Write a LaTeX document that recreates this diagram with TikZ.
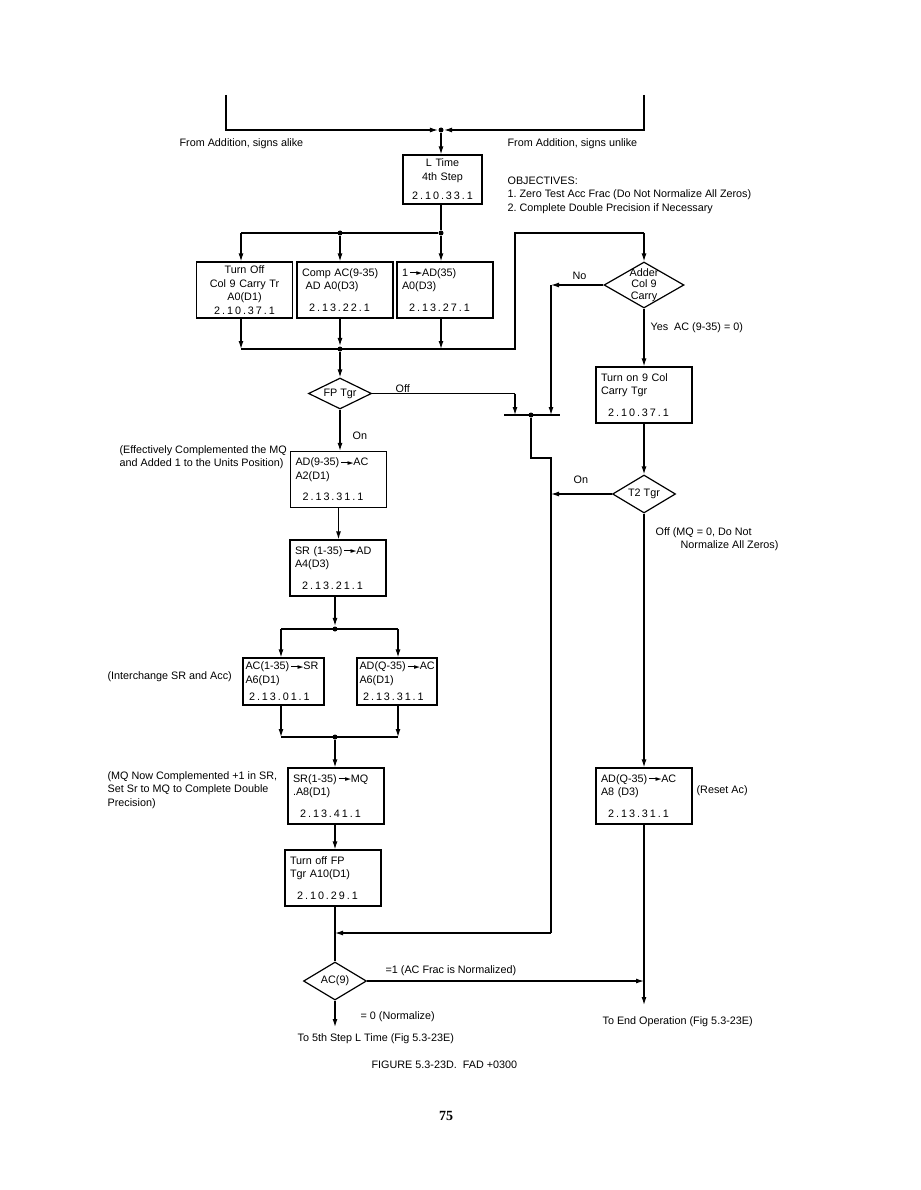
\documentclass[tikz,border=0pt]{standalone}
\usepackage{fontspec}
\setmainfont{Liberation Sans}
\newfontfamily\numfont[LetterSpace=18]{Liberation Sans}
\newfontfamily\symfont{DejaVu Sans}
\newfontfamily\pagefont{Liberation Serif}
\usetikzlibrary{shapes.geometric,arrows.meta}

\newcommand{\ra}{\,\rule[3.2pt]{8pt}{0.8pt}\kern-1.5pt\raisebox{0.6pt}{\symfont\fontsize{7.5}{7.5}\selectfont\char"25BA}}
\newcommand{\secno}[1]{{\numfont #1}}

\tikzset{
  blk/.style={draw, rectangle, text width=#1, inner xsep=5pt, inner ysep=3pt,
    minimum height=56pt, align=left, font=\fontsize{10.8}{13.5}\selectfont},
  blk/.default=86pt,
  decide/.style={draw, diamond, aspect=2, inner sep=-3pt, align=center,
    font=\fontsize{10.8}{11.5}\selectfont},
  jdot/.style={circle, fill, inner sep=0pt, minimum size=5pt},
  note/.style={anchor=west, inner sep=0pt, align=left,
    font=\fontsize{10.8}{13.5}\selectfont},
  >={Latex[length=8pt,width=5pt]}
}

\begin{document}
\begin{tikzpicture}[x=1pt, y=-1pt, line width=1.2pt]

    % Page size of the scanned sheet
    \useasboundingbox (0,0) rectangle (920,1190);

    % Entry lines from the addition steps
    \coordinate (alike) at (226,95);
    \coordinate (unlike) at (644,95);
    \node[jdot] (j0) at (441,130) {};
    \draw[->] (alike) |- (j0);
    \draw[->] (unlike) |- (j0);
    \node[note] (nalike) at (179,144) {From Addition, signs alike};
    \node[note] (nunlike) at (507,144) {From Addition, signs unlike};

    % L time, 4th step
    \node[blk=69pt, align=center, minimum height=49pt] (ltime) at (442.5,179.5)
        {L Time\\4th Step\\[6pt]\secno{2.10.33.1}};
    \draw[->] (j0) -- (j0 |- ltime.north);

    % Objectives
    \node[note, anchor=north west] (nobj) at (507,176)
        {OBJECTIVES:\\1.\ Zero Test Acc Frac (Do Not Normalize All Zeros)\\2.\ Complete Double Precision if Necessary};

    % Split into the three first steps
    \node[jdot] (j1) at (441,233) {};
    \node[jdot] (j2) at (340,233) {};
    \coordinate (c1) at (241,233);
    \draw (ltime.south -| j1) -- (j1);
    \draw (c1) -- (j1);

    \node[blk, align=center] (turnoff) at (244.5,290)
        {Turn Off\\Col 9 Carry Tr\\A0(D1)\\\secno{2.10.37.1}};
    \node[blk] (comp) at (345,290)
        {\mbox{Comp AC(9-35)}\\\ AD A0(D3)\\[8pt]\secno{\ \ 2.13.22.1}};
    \node[blk] (oneto) at (445,290)
        {1\ra AD(35)\\A0(D3)\\[8pt]\secno{\ \ 2.13.27.1}};
    \draw[->] (c1) -- (c1 |- turnoff.north);
    \draw[->] (j2) -- (j2 |- comp.north);
    \draw[->] (j1) -- (j1 |- oneto.north);

    % Merge below the three steps
    \node[jdot] (j3) at (340,349) {};
    \coordinate (c2) at (241,349);
    \coordinate (c3) at (441,349);
    \coordinate (c4) at (515,349);
    \coordinate (c5) at (515,233);
    \coordinate (c6) at (644,233);
    \draw[->] (turnoff.south -| c2) -- (c2);
    \draw[->] (comp.south -| j3) -- (j3);
    \draw[->] (oneto.south -| c3) -- (c3);
    \draw (c2) -- (c4) -- (c5) -- (c6);

    % Adder col 9 carry test
    \node[decide, minimum width=80pt, minimum height=46pt] (adder) at (644,285)
        {Adder\\Col 9\\Carry};
    \draw[->] (c6) -- (adder.north);
    \coordinate (c9) at (551,285);
    \coordinate (c10) at (551,415);
    \draw[->] (adder.west) -- (c9);
    \draw[->] (c9) -- (c10);
    \node[note] (nno) at (572,276) {No};

    \node[blk] (turnon) at (644,395)
        {Turn on 9 Col\\Carry Tgr\\[8pt]\secno{\ \ 2.10.37.1}};
    \draw[->] (adder.south) -- (turnon.north);
    \node[note] (nyes) at (650,328) {Yes\ \ AC (9-35) = 0)};

    % FP Tgr test
    \node[decide, minimum width=63pt, minimum height=31pt] (fptgr) at (340,393.5) {FP Tgr};
    \draw[->] (j3) -- (fptgr.north);
    \coordinate (c7) at (515,393.5);
    \coordinate (c8) at (515,415);
    \draw (fptgr.east) -- (c7);
    \draw[->] (c7) -- (c8);
    \node[note] (noff) at (395,389) {Off};
    \node[note] (non) at (352,436) {On};

    % Joining bar
    \coordinate (bl) at (504,415);
    \coordinate (br) at (560,415);
    \node[jdot] (j4) at (531,415) {};
    \draw (bl) -- (br);
    \coordinate (c11) at (531,458);
    \coordinate (c12) at (551,458);
    \coordinate (c13) at (551,933);
    \coordinate (c14) at (335,933);
    \draw (j4) -- (c11) -- (c12) -- (c13);
    \draw[->] (c13) -- (c14);

    % T2 Tgr test
    \node[decide, minimum width=63pt, minimum height=38pt] (t2) at (644,494) {T2 Tgr};
    \draw[->] (turnon.south) -- (t2.north);
    \coordinate (c15) at (551,494);
    \draw[->] (t2.west) -- (c15);
    \node[note] (non2) at (573,480) {On};
    \node[note, anchor=north west] (noff2) at (655,527)
        {Off (MQ = 0, Do Not\\\hspace*{25pt}Normalize All Zeros)};

    \node[blk] (reset) at (644,796)
        {\mbox{AD(Q-35)\ra AC}\\A8 (D3)\\[8pt]\secno{\ \ 2.13.31.1}};
    \draw[->] (t2.south) -- (reset.north);
    \node[note] (nreset) at (696,791) {(Reset Ac)};
    \coordinate (endop) at (644,1005);
    \draw[->] (reset.south) -- (endop);
    \node[note] (nendop) at (602,1022) {To End Operation (Fig 5.3-23E)};

    % On path of FP Tgr
    \node[blk] (addac) at (338.5,479.5)
        {\mbox{AD(9-35)\ra AC}\\A2(D1)\\[8pt]\secno{\ \ 2.13.31.1}};
    \draw[->] (fptgr.south) -- (fptgr.south |- addac.north);
    \node[note, anchor=north west] (neff) at (119,445)
        {(Effectively Complemented the MQ\\and Added 1 to the Units Position)};

    \node[blk] (srad) at (338,568)
        {\mbox{SR (1-35)\ra AD}\\A4(D3)\\[8pt]\secno{\ \ 2.13.21.1}};
    \draw[->] (addac.south) -- (addac.south |- srad.north);

    % Interchange SR and Acc
    \node[jdot] (j5) at (335,629) {};
    \coordinate (c16) at (281,629);
    \coordinate (c17) at (398,629);
    \draw[->] (srad.south -| j5) -- (j5);
    \draw (c16) -- (c17);
    \node[blk=76pt, inner xsep=2.5pt, minimum height=47pt] (acsr) at (283.5,681.5)
        {\mbox{AC(1-35)\ra SR}\\A6(D1)\\[4pt]\secno{\ 2.13.01.1}};
    \node[blk=75pt, inner xsep=2.5pt, minimum height=47pt] (adac) at (397,681.5)
        {\mbox{AD(Q-35)\ra AC}\\A6(D1)\\[4pt]\secno{\ 2.13.31.1}};
    \draw[->] (c16) -- (c16 |- acsr.north);
    \draw[->] (c17) -- (c17 |- adac.north);
    \node[note] (nint) at (107,677) {(Interchange SR and Acc)};

    \node[jdot] (j6) at (335,737) {};
    \coordinate (c18) at (281,737);
    \coordinate (c19) at (398,737);
    \draw[->] (acsr.south -| c18) -- (c18);
    \draw[->] (adac.south -| c19) -- (c19);
    \draw (c18) -- (c19);

    % Double precision completion
    \node[blk] (srmq) at (336,796)
        {\mbox{SR(1-35)\ra MQ}\\.A8(D1)\\[8pt]\secno{\ \ 2.13.41.1}};
    \draw[->] (j6) -- (j6 |- srmq.north);
    \node[note, anchor=north west] (nmq) at (107,771)
        {(MQ Now Complemented +1 in SR,\\Set Sr to MQ to Complete Double\\Precision)};

    \node[blk] (fpoff) at (333,878)
        {Turn off FP\\Tgr A10(D1)\\[8pt]\secno{\ \ 2.10.29.1}};
    \draw[->] (srmq.south -| j6) -- (j6 |- fpoff.north);

    % AC(9) test
    \node[decide, minimum width=63pt, minimum height=38pt] (ac9) at (335,981) {AC(9)};
    \draw (fpoff.south -| ac9) -- (ac9.north);
    \coordinate (c20) at (644,981);
    \draw[->] (ac9.east) -- (c20);
    \node[note] (nnorm) at (385,971) {=1 (AC Frac is Normalized)};
    \coordinate (to5) at (335,1027);
    \draw[->] (ac9.south) -- (to5);
    \node[note] (nzero) at (360,1017) {= 0 (Normalize)};
    \node[note] (nto5) at (297,1039) {To 5th Step L Time (Fig 5.3-23E)};

    % Caption and page number
    \node[note] (ncap) at (371,1065) {FIGURE 5.3-23D.\ \ FAD +0300};
    \node[inner sep=0pt, font=\pagefont\bfseries\fontsize{14}{16}\selectfont] (npage) at (446,1116) {75};

\end{tikzpicture}
\end{document}
